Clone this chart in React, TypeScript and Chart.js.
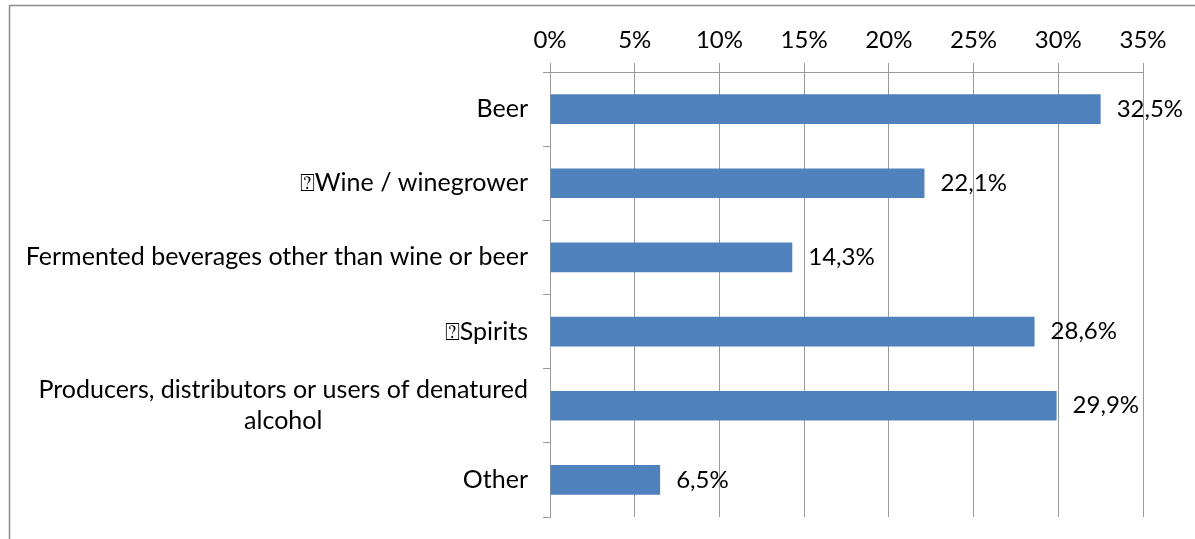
import { useEffect, useRef } from "react";
import { Chart, registerables } from "chart.js";

Chart.register(...registerables);

const categories: string[][] = [
  ["Beer"],
  ["\u2370Wine / winegrower"],
  ["Fermented beverages other than wine or beer"],
  ["\u2370Spirits"],
  ["Producers, distributors or users of denatured", "alcohol"],
  ["Other"],
];
const shares: number[] = [32.5, 22.1, 14.3, 28.6, 29.9, 6.5];
const axisMin = 0;
const axisMax = 35;
const axisStep = 5;

const FONT = "Lato, 'DejaVu Sans', sans-serif";
const TICK_SIZE = 24;
const CAT_SIZE = 25;
const VAL_SIZE = 24;
const GRID = "#9a9a9a";

const fmt = (v: number) => v.toFixed(1).replace(".", ",") + "%";

export default function App() {
  const ref = useRef<HTMLCanvasElement | null>(null);

  useEffect(() => {
    if (!ref.current) return;
    const labelsPlugin = {
      id: "customLabels",
      beforeDraw(chart: any) {
        const ctx = chart.ctx;
        ctx.save();
        ctx.strokeStyle = "#8c8c8c";
        ctx.lineWidth = 1.5;
        ctx.beginPath();
        ctx.moveTo(9.5, chart.height);
        ctx.lineTo(9.5, 5.5);
        ctx.lineTo(chart.width, 5.5);
        ctx.stroke();
        ctx.restore();
      },
      afterDraw(chart: any) {
        const ctx = chart.ctx;
        const yScale = chart.scales.y;
        ctx.save();
        ctx.fillStyle = "#000";
        ctx.textBaseline = "middle";
        ctx.font = `${CAT_SIZE}px ${FONT}`;
        const right = yScale.right - 22;
        const lineH = 31;
        categories.forEach((lines, i) => {
          const py = yScale.getPixelForValue(i);
          const maxW = Math.max(...lines.map((l) => ctx.measureText(l).width));
          ctx.textAlign = "center";
          lines.forEach((l, k) => {
            const ly = py - ((lines.length - 1) * lineH) / 2 + k * lineH;
            ctx.fillText(l, right - maxW / 2, ly);
          });
        });
        ctx.font = `${VAL_SIZE}px ${FONT}`;
        const meta = chart.getDatasetMeta(0);
        ctx.textAlign = "left";
        meta.data.forEach((el: any, i: number) => {
          ctx.fillText(fmt(shares[i]), el.x + 16, el.y);
        });
        ctx.restore();
      },
    };

    const chart = new Chart(ref.current, {
      type: "bar",
      data: {
        labels: categories.map((c) => c.join(" ")),
        datasets: [
          {
            data: shares,
            backgroundColor: "#4F81BD",
            borderWidth: 0,
            categoryPercentage: 0.4,
            barPercentage: 1,
          },
        ],
      },
      options: {
        indexAxis: "y",
        animation: false,
        responsive: true,
        maintainAspectRatio: false,
        layout: { padding: { left: 0, right: 52, top: 0, bottom: 22 } },
        plugins: { legend: { display: false }, tooltip: { enabled: false } },
        scales: {
          x: {
            position: "top",
            min: axisMin,
            max: axisMax,
            ticks: {
              stepSize: axisStep,
              callback: (v: any) => `${v}%`,
              color: "#000",
              font: { family: FONT, size: TICK_SIZE },
              padding: 8,
            },
            grid: { color: GRID, lineWidth: 1, drawTicks: true, tickLength: 9, tickColor: GRID },
            border: { color: GRID, width: 1 },
            afterFit: (s: any) => {
              s.height = 72;
            },
          },
          y: {
            type: "category",
            ticks: { display: false },
            grid: {
              offset: true,
              drawOnChartArea: false,
              drawTicks: true,
              tickLength: 7,
              color: GRID,
              tickColor: GRID,
            },
            border: { color: GRID, width: 1 },
            afterFit: (s: any) => {
              s.width = 550;
            },
          },
        },
      },
      plugins: [labelsPlugin],
    } as any);
    return () => chart.destroy();
  }, []);

  return (
    <div style={{ position: "fixed", left: 0, top: 0, width: 1195, height: 539, background: "#fff" }}>
      <canvas ref={ref} />
    </div>
  );
}
